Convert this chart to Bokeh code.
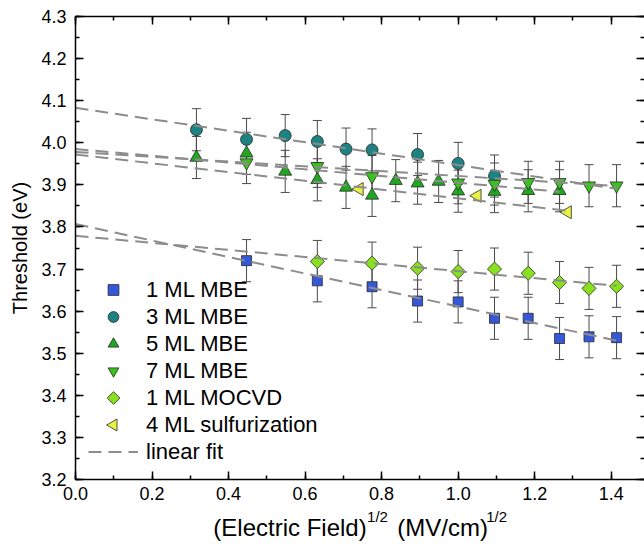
import math
from bokeh.plotting import figure
from bokeh.models import (ColumnDataSource, Whisker, TeeHead, Legend, LegendItem,
                          LinearAxis, Range1d, SingleIntervalTicker, FixedTicker,
                          NumeralTickFormatter)
from bokeh.embed import file_html
from bokeh.resources import INLINE

# ---------------- data ----------------
x_1ml_mbe = [0.447, 0.632, 0.775, 0.894, 1.0, 1.095, 1.183, 1.265, 1.342, 1.414]
y_1ml_mbe = [3.720, 3.672, 3.658, 3.624, 3.622, 3.583, 3.583, 3.535, 3.539, 3.537]

x_3ml_mbe = [0.316, 0.447, 0.548, 0.632, 0.707, 0.775, 0.894, 1.0, 1.095]
y_3ml_mbe = [4.031, 4.008, 4.017, 4.003, 3.985, 3.983, 3.972, 3.951, 3.921]

x_5ml_mbe = [0.316, 0.447, 0.548, 0.632, 0.707, 0.775, 0.837, 0.894, 0.949, 1.0, 1.095, 1.183, 1.265]
y_5ml_mbe = [3.965, 3.975, 3.932, 3.912, 3.894, 3.875, 3.910, 3.904, 3.908, 3.885, 3.884, 3.886, 3.886]

x_7ml_mbe = [0.447, 0.632, 0.775, 1.0, 1.095, 1.183, 1.265, 1.342, 1.414]
y_7ml_mbe = [3.953, 3.944, 3.920, 3.905, 3.902, 3.906, 3.906, 3.898, 3.898]

x_1ml_mocvd = [0.632, 0.775, 0.894, 1.0, 1.095, 1.183, 1.265, 1.342, 1.414]
y_1ml_mocvd = [3.718, 3.714, 3.702, 3.694, 3.700, 3.690, 3.668, 3.654, 3.659]

x_4ml_sulf = [0.742, 1.050, 1.286]
y_4ml_sulf = [3.890, 3.874, 3.835]

err_bar = 0.05  # error bar half-width (eV), MBE and MOCVD series

# linear fits: (intercept, slope, x_end)
fit_1ml_mbe = (3.807, -0.196, 1.414)
fit_3ml_mbe = (4.083, -0.136, 1.414)
fit_5ml_mbe = (3.985, -0.080, 1.265)
fit_7ml_mbe = (3.978, -0.057, 1.414)
fit_1ml_mocvd = (3.779, -0.084, 1.414)
fit_4ml_sulf = (3.972, -0.104, 1.286)

legend_labels = ["1 ML MBE", "3 ML MBE", "5 ML MBE", "7 ML MBE", "1 ML MOCVD",
                 "4 ML sulfurization", "linear fit"]

X_MIN, X_MAX = 0.0, 1.487
Y_MIN, Y_MAX = 3.2, 4.3

FONT = "Liberation Sans"
W, H = 644, 551
B_LEFT, B_TOP, B_BOTTOM, B_RIGHT = 75, 16, 72, 0

p = figure(width=W, height=H, x_range=Range1d(X_MIN, X_MAX), y_range=Range1d(Y_MIN, Y_MAX),
           output_backend="svg", toolbar_location=None,
           x_axis_location=None, y_axis_location=None,
           min_border_left=B_LEFT, min_border_right=B_RIGHT,
           min_border_top=B_TOP, min_border_bottom=B_BOTTOM)
p.outline_line_color = None
p.xgrid.visible = False
p.ygrid.visible = False


def style_axis(ax, labels=True):
    ax.axis_line_color = "black"
    ax.axis_line_width = 1.5
    ax.major_tick_line_color = "black"
    ax.minor_tick_line_color = "black"
    ax.major_tick_line_width = 1.5
    ax.minor_tick_line_width = 1.5
    ax.major_tick_in = 8
    ax.major_tick_out = 0
    ax.minor_tick_in = 4
    ax.minor_tick_out = 0
    ax.major_label_text_font = FONT
    ax.axis_label_text_color = "black"
    if labels:
        ax.major_label_text_font_size = "18px"
        ax.major_label_text_color = "black"
    else:
        ax.major_label_text_color = None
        ax.major_label_text_font_size = "1px"
        ax.major_label_standoff = 0


xt = SingleIntervalTicker(interval=0.2, num_minor_ticks=2)
yt = SingleIntervalTicker(interval=0.1, num_minor_ticks=2)

# ----- x-axis label: "(Electric Field)^1/2 (MV/cm)^1/2" as two stacked axis labels -----
F_MAIN, F_SUP = 24.0, 15.0
EM = "\u2003"
EN = "\u2002"
NB = "\u00a0"


def gap(px, fs):
    s = ""
    rem = px
    for ch, w in ((EM, 1.0), (EN, 0.5), (NB, 0.278)):
        n = int(rem // (w * fs))
        s += ch * n
        rem -= n * w * fs
    if rem > 0.139 * fs:
        s += NB
    return s


w_main1 = 6.389 * F_MAIN      # "(Electric Field)"
w_main2 = 3.777 * F_MAIN      # "(MV/cm)"
w_space = 0.278 * F_MAIN
w_sup = 1.39 * F_SUP          # "1/2"
main_text = "(Electric Field)" + gap(w_sup + w_space, F_MAIN) + "(MV/cm)" + gap(w_sup, F_MAIN)
sup_text = gap(w_main1, F_SUP) + "1/2" + gap(w_space + w_main2, F_SUP) + "1/2"

bottom = LinearAxis(ticker=xt, formatter=NumeralTickFormatter(format="0.0"))
style_axis(bottom)
bottom.major_label_standoff = 7
bottom.axis_label = sup_text
bottom.axis_label_text_font = FONT
bottom.axis_label_text_font_size = f"{F_SUP}px"
bottom.axis_label_text_font_style = "normal"
bottom.axis_label_standoff = 5

bottom2 = LinearAxis(ticker=FixedTicker(ticks=[]))
bottom2.axis_line_color = None
bottom2.major_tick_line_color = None
bottom2.minor_tick_line_color = None
bottom2.major_label_text_font_size = "1px"
bottom2.major_label_text_color = None
bottom2.major_label_standoff = 0
bottom2.major_tick_out = 0
bottom2.minor_tick_out = 0
bottom2.axis_label = main_text
bottom2.axis_label_text_font = FONT
bottom2.axis_label_text_font_size = f"{F_MAIN}px"
bottom2.axis_label_text_font_style = "normal"
bottom2.axis_label_text_color = "black"
bottom2.axis_label_standoff = -14

top = LinearAxis(ticker=xt)
style_axis(top, labels=False)
left = LinearAxis(ticker=yt, formatter=NumeralTickFormatter(format="0.0"))
style_axis(left)
left.major_label_standoff = 9
left.axis_label = "Threshold (eV)"
left.axis_label_text_font = FONT
left.axis_label_text_font_size = "20px"
left.axis_label_text_font_style = "normal"
left.axis_label_standoff = 7
right = LinearAxis(ticker=yt)
style_axis(right, labels=False)
right.axis_line_color = None

p.add_layout(bottom, "below")
p.add_layout(bottom2, "below")
p.add_layout(top, "above")
p.add_layout(left, "left")
p.add_layout(right, "right")

EDGE = "#2a2a2a"
ERR = "#4a4a4a"


def errbars(xs, ys, e):
    src = ColumnDataSource(dict(x=xs, lo=[v - e for v in ys], hi=[v + e for v in ys]))
    w = Whisker(source=src, base="x", lower="lo", upper="hi", line_color=ERR, line_width=1,
                upper_head=TeeHead(size=9, line_color=ERR, line_width=1),
                lower_head=TeeHead(size=9, line_color=ERR, line_width=1))
    p.add_layout(w)


errbars(x_1ml_mbe, y_1ml_mbe, err_bar)
errbars(x_3ml_mbe, y_3ml_mbe, err_bar)
errbars(x_5ml_mbe, y_5ml_mbe, err_bar)
errbars(x_7ml_mbe, y_7ml_mbe, err_bar)
errbars(x_1ml_mocvd, y_1ml_mocvd, err_bar)

C_SQ, C_CI, C_TU, C_TD, C_DI, C_TL = "#3558DA", "#1C8282", "#1FA81F", "#36C41A", "#88E01E", "#E6F244"
mk = dict(line_color=EDGE, line_width=0.8)

r_sq = p.scatter(x_1ml_mbe, y_1ml_mbe, marker="square", size=10, fill_color=C_SQ, **mk)
r_ci = p.scatter(x_3ml_mbe, y_3ml_mbe, marker="circle", size=12, fill_color=C_CI, **mk)
r_tu = p.scatter(x_5ml_mbe, y_5ml_mbe, marker="triangle", size=13, fill_color=C_TU, **mk)
r_td = p.scatter(x_7ml_mbe, y_7ml_mbe, marker="inverted_triangle", size=13, fill_color=C_TD, **mk)
r_di = p.scatter(x_1ml_mocvd, y_1ml_mocvd, marker="square", angle=math.pi / 4, size=10,
                 fill_color=C_DI, **mk)
r_tl = p.scatter(x_4ml_sulf, y_4ml_sulf, marker="triangle", angle=math.pi / 2, size=13,
                 fill_color=C_TL, **mk)

fit_renderers = []
for (b, m, xe) in [fit_3ml_mbe, fit_5ml_mbe, fit_7ml_mbe, fit_4ml_sulf, fit_1ml_mbe, fit_1ml_mocvd]:
    r = p.line([0, xe], [b, b + m * xe], line_color="#8c8c8c", line_width=2, line_dash="13 7")
    fit_renderers.append(r)

# legend (rotated keys are legend symbols drawn at the legend rows' positions)
LEG_VX, LEG_VY = 13, 14
GLYPH_W, GLYPH_H, SPACING = 50, 27, 0
n_rows = len(legend_labels)
leg_h = n_rows * GLYPH_H + (n_rows - 1) * SPACING

dummy_di = p.scatter(x=[], y=[], marker="square", fill_alpha=0, line_alpha=0)
dummy_tl = p.scatter(x=[], y=[], marker="square", fill_alpha=0, line_alpha=0)

frame_w = W - B_LEFT - B_RIGHT - 1
frame_h = H - B_TOP - B_BOTTOM
kx = X_MIN + (LEG_VX + GLYPH_W / 2) / frame_w * (X_MAX - X_MIN)


def row_y(i):
    from_bottom = LEG_VY + leg_h - (i * (GLYPH_H + SPACING) + GLYPH_H / 2)
    return Y_MIN + from_bottom / frame_h * (Y_MAX - Y_MIN)


p.scatter([kx], [row_y(4)], marker="square", angle=math.pi / 4, size=9, fill_color=C_DI, **mk)
p.scatter([kx], [row_y(5)], marker="triangle", angle=math.pi / 2, size=12, fill_color=C_TL, **mk)

legend = Legend(items=[
    LegendItem(label=legend_labels[0], renderers=[r_sq]),
    LegendItem(label=legend_labels[1], renderers=[r_ci]),
    LegendItem(label=legend_labels[2], renderers=[r_tu]),
    LegendItem(label=legend_labels[3], renderers=[r_td]),
    LegendItem(label=legend_labels[4], renderers=[dummy_di]),
    LegendItem(label=legend_labels[5], renderers=[dummy_tl]),
    LegendItem(label=legend_labels[6], renderers=[fit_renderers[0]]),
], location=(LEG_VX, LEG_VY))
legend.border_line_color = None
legend.background_fill_alpha = 0
legend.padding = 0
legend.margin = 0
legend.glyph_width = GLYPH_W
legend.glyph_height = GLYPH_H
legend.label_height = GLYPH_H
legend.spacing = SPACING
legend.label_standoff = 8
legend.label_text_font = FONT
legend.label_text_font_size = "22px"
legend.label_text_color = "black"
p.add_layout(legend, "center")

open("out.html", "w").write(file_html(p, INLINE))
